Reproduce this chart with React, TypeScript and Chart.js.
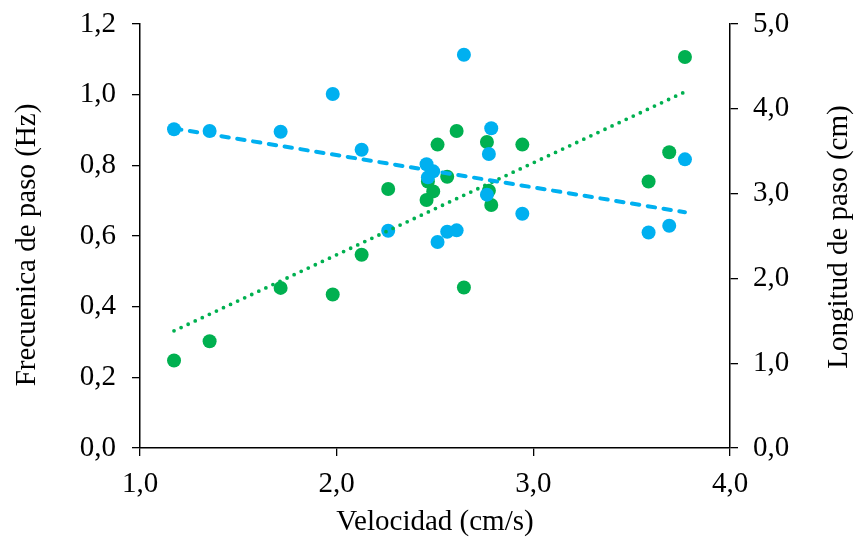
import React, { useEffect, useRef } from "react";
import { Chart, registerables } from "chart.js";

Chart.register(...registerables);

// Velocidad (cm/s) for each subject
const velocidad = [
  1.173, 1.354, 1.715, 1.98, 2.127, 2.262, 2.457, 2.464, 2.491, 2.513,
  2.562, 2.61, 2.647, 2.764, 2.774, 2.786, 2.944, 3.586, 3.691, 3.771,
];
// Frecuencia de paso (Hz) - left axis
const frecuencia = [
  0.902, 0.897, 0.895, 1.002, 0.844, 0.615, 0.803, 0.766, 0.783, 0.583,
  0.612, 0.616, 1.113, 0.717, 0.832, 0.905, 0.663, 0.61, 0.629, 0.817,
];
// Longitud de paso (cm) - right axis
const longitud = [
  1.031, 1.258, 1.888, 1.81, 2.279, 3.054, 2.925, 3.143, 3.026, 3.578,
  3.198, 3.738, 1.892, 3.609, 3.034, 2.866, 3.578, 3.143, 3.488, 4.61,
];

const xTitle = "Velocidad (cm/s)";
const yLeftTitle = "Frecuenica de paso (Hz)";
const yRightTitle = "Longitud de paso (cm)";

const BLUE = "#00B0F0";
const GREEN = "#00B050";
const FONT = "'Liberation Serif', 'Times New Roman', serif";
const FONT_SIZE = 29;

function linearFit(xs: number[], ys: number[]) {
  const n = xs.length;
  const mx = xs.reduce((a, b) => a + b, 0) / n;
  const my = ys.reduce((a, b) => a + b, 0) / n;
  let sxy = 0;
  let sxx = 0;
  for (let i = 0; i < n; i++) {
    sxy += (xs[i] - mx) * (ys[i] - my);
    sxx += (xs[i] - mx) * (xs[i] - mx);
  }
  const m = sxy / sxx;
  const b = my - m * mx;
  const x0 = Math.min(...xs);
  const x1 = Math.max(...xs);
  return [
    { x: x0, y: m * x0 + b },
    { x: x1, y: m * x1 + b },
  ];
}

const fmt = (v: any) => Number(v).toFixed(1).replace(".", ",");

// Both vertical axis titles read bottom-to-top
const sideTitlesPlugin = {
  id: "sideTitles",
  afterDraw(chart: any) {
    const { ctx } = chart;
    const draw = (text: string, x: number, y: number) => {
      ctx.save();
      ctx.translate(x, y);
      ctx.rotate(-Math.PI / 2);
      ctx.textAlign = "center";
      ctx.textBaseline = "middle";
      ctx.fillStyle = "#000";
      ctx.font = `${FONT_SIZE}px ${FONT}`;
      ctx.fillText(text, 0, 0);
      ctx.restore();
    };
    draw(yLeftTitle, 27, 245);
    draw(yRightTitle, 839, 237);
  },
};

export default function App() {
  const ref = useRef<HTMLCanvasElement | null>(null);

  useEffect(() => {
    if (!ref.current) return;
    const tickFont = { family: FONT, size: FONT_SIZE };
    const titleFont = { family: FONT, size: FONT_SIZE, lineHeight: 1.0 };
    const axisGrid = {
      drawOnChartArea: false,
      drawTicks: true,
      tickLength: 8,
      color: "#000",
      lineWidth: 1.3,
    };
    const chart = new Chart(ref.current, {
      type: "scatter",
      data: {
        datasets: [
          {
            type: "line",
            label: "Tendencia frecuencia",
            data: linearFit(velocidad, frecuencia),
            yAxisID: "y",
            borderColor: BLUE,
            borderWidth: 4,
            borderDash: [7.5, 8.5],
            borderCapStyle: "round",
            pointRadius: 0,
            fill: false,
            order: 0,
          },
          {
            type: "line",
            label: "Tendencia longitud",
            data: linearFit(velocidad, longitud),
            yAxisID: "y1",
            borderColor: GREEN,
            borderWidth: 3.8,
            borderDash: [0, 7.8],
            borderCapStyle: "round",
            pointRadius: 0,
            fill: false,
            order: 0,
          },
          {
            label: "Frecuencia",
            data: velocidad.map((x, i) => ({ x, y: frecuencia[i] })),
            yAxisID: "y",
            backgroundColor: BLUE,
            borderWidth: 0,
            pointRadius: 7,
            pointHoverRadius: 7,
            order: 1,
          },
          {
            label: "Longitud",
            data: velocidad.map((x, i) => ({ x, y: longitud[i] })),
            yAxisID: "y1",
            backgroundColor: GREEN,
            borderWidth: 0,
            pointRadius: 7,
            pointHoverRadius: 7,
            order: 2,
          },
        ],
      },
      options: {
        animation: false,
        responsive: false,
        layout: { padding: { top: 24, left: 0, right: 0, bottom: 0 } },
        plugins: {
          legend: { display: false },
          tooltip: { enabled: false },
        },
        scales: {
          x: {
            type: "linear",
            min: 1,
            max: 4,
            ticks: {
              stepSize: 1,
              callback: fmt,
              color: "#000",
              font: tickFont,
              padding: 11,
              maxRotation: 0,
            },
            grid: axisGrid,
            border: { color: "#000", width: 1.5 },
            title: {
              display: true,
              text: xTitle,
              color: "#000",
              font: titleFont,
              padding: { top: 0, bottom: 0 },
            },
            afterFit: (s: any) => {
              s.height = 89;
              s.paddingLeft = 0;
              s.paddingRight = 0;
            },
          },
          y: {
            type: "linear",
            position: "left",
            min: 0,
            max: 1.2,
            ticks: {
              stepSize: 0.2,
              callback: fmt,
              color: "#000",
              font: tickFont,
              padding: 16,
            },
            grid: axisGrid,
            border: { color: "#000", width: 1.5 },
            afterFit: (s: any) => {
              s.width = 140;
              s.paddingTop = 0;
              s.paddingBottom = 0;
            },
          },
          y1: {
            type: "linear",
            position: "right",
            min: 0,
            max: 5,
            ticks: {
              stepSize: 1,
              callback: fmt,
              color: "#000",
              font: tickFont,
              padding: 15,
            },
            grid: axisGrid,
            border: { color: "#000", width: 1.5 },
            afterFit: (s: any) => {
              s.width = 125;
              s.paddingTop = 0;
              s.paddingBottom = 0;
            },
          },
        },
      },
      plugins: [sideTitlesPlugin],
    } as any);
    return () => chart.destroy();
  }, []);

  return (
    <div
      style={{
        position: "fixed",
        left: 0,
        top: 0,
        width: 855,
        height: 537,
        background: "#fff",
      }}
    >
      <canvas ref={ref} width={855} height={537} style={{ width: 855, height: 537, display: "block" }} />
    </div>
  );
}
